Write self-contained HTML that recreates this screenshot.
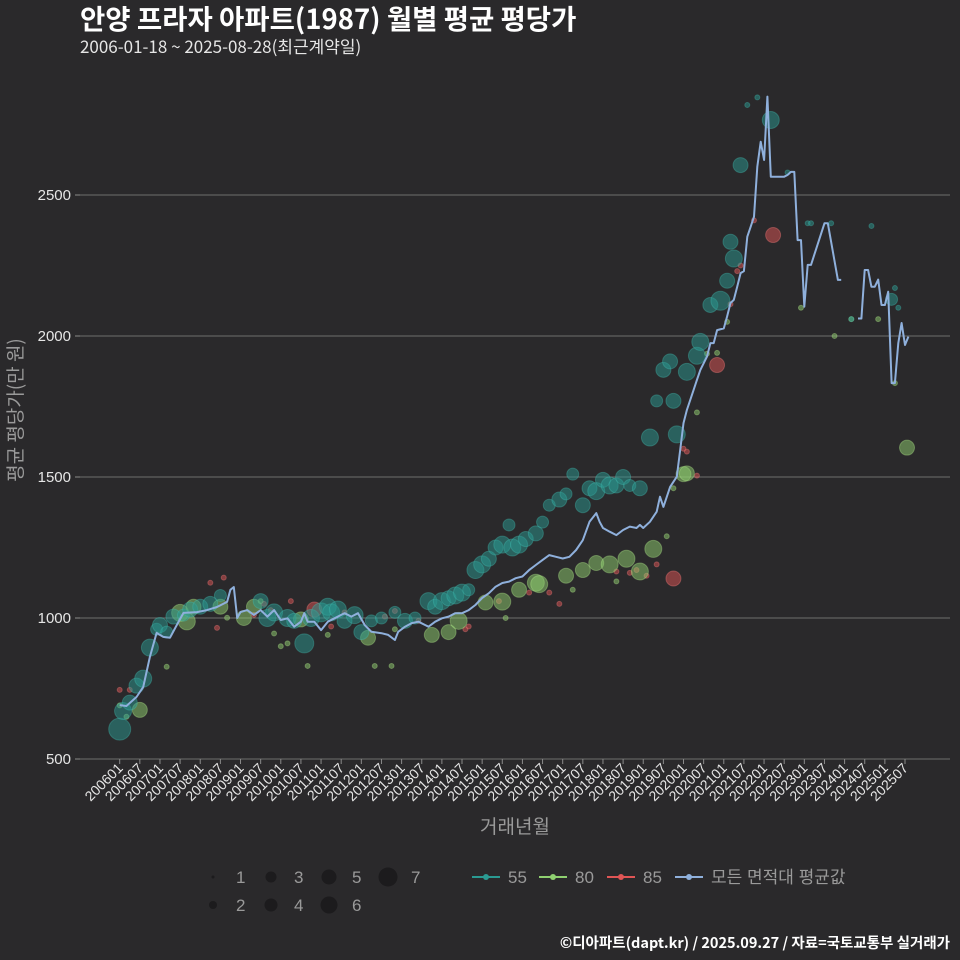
<!DOCTYPE html>
<html><head><meta charset="utf-8"><style>
html,body{margin:0;padding:0;background:#2a292b;}
svg{display:block;font-family:"Liberation Sans","Noto Sans CJK KR",sans-serif;}
</style></head><body>
<svg id="chart" width="960" height="960" viewBox="0 0 960 960" xmlns="http://www.w3.org/2000/svg">
<rect width="960" height="960" fill="#2a292b"/>
<text x="80" y="29" fill="#ffffff" font-size="27.5" font-weight="bold" font-family="'Noto Sans CJK KR',sans-serif">안양 프라자 아파트(1987) 월별 평균 평당가</text>
<text x="80" y="53" fill="#e6e6e6" font-size="17" font-family="'Noto Sans CJK KR',sans-serif">2006-01-18 ~ 2025-08-28(최근계약일)</text>
<g id="grid"></g>
<g id="bubbles"></g>
<g id="avgline"></g>
<g id="xaxis"></g>
<g id="yaxis"></g>
<text x="515" y="833" fill="#9a9a9a" font-size="19" text-anchor="middle" font-family="'Noto Sans CJK KR',sans-serif">거래년월</text>
<text transform="translate(22,410) rotate(-90)" fill="#9a9a9a" font-size="19" text-anchor="middle" font-family="'Noto Sans CJK KR',sans-serif">평균 평당가(만 원)</text>
<g id="legend"></g>
<text x="950" y="948" fill="#ffffff" font-size="14.5" font-weight="bold" text-anchor="end" font-family="'Noto Sans CJK KR',sans-serif">©디아파트(dapt.kr) / 2025.09.27 / 자료=국토교통부 실거래가</text>
</svg>
<script>
// ---- data ----
const yTicks = [500, 1000, 1500, 2000, 2500];
const xTickLabels = ["200601","200607","200701","200707","200801","200807","200901","200907","201001","201007","201101","201107","201201","201207","201301","201307","201401","201407","201501","201507","201601","201607","201701","201707","201801","201807","201901","201907","202001","202007","202101","202107","202201","202207","202301","202307","202401","202407","202501","202507"];
// average line: month offsets from 2006-01 and values (null = gap)
const avgMonths = [0,2,5,7,9,11,13,15,17,19,23,26,29,32,33,34,35,36,38,40,42,44,46,48,50,52,54,55,56,58,60,62,64,66,67,69,71,73,75,78,80,82,83,85,87,89,91,92,94,96,98,100,102,104,106,108,110,112,114,116,118,120,122,124,126,128,130,132,134,136,138,140,142,143,144,146,148,150,152,154,155,156,158,160,161,162,164,166,167,168,169,171,172,173,175,176,177,178,180,181,182,183,184,185,186,187,188,189,190,191,192,193,194,198,199,200,201,202,203,204,205,206,210,211,214,215,216,220,221,222,223,224,225,226,227,228,229,230,231,232,233,234,235];
const avgValues = [691,688,720,755,862,947,933,930,975,1018,1021,1028,1039,1057,1100,1110,1000,1021,1028,1011,1028,1005,1028,993,999,969,987,1017,987,987,957,987,999,1011,1017,1005,1017,975,951,946,940,922,951,969,982,987,975,969,987,999,1005,1017,1017,1028,1046,1071,1088,1111,1124,1129,1141,1147,1170,1188,1206,1223,1217,1211,1217,1241,1276,1341,1372,1341,1319,1306,1294,1312,1324,1319,1330,1319,1341,1377,1430,1394,1465,1501,1596,1691,1738,1809,1844,1879,1927,1975,1975,2021,2027,2069,2117,2128,2175,2223,2230,2352,2387,2423,2600,2689,2624,2849,2565,2565,2571,2582,2582,2340,2340,2104,2252,2252,2400,2400,2199,2199,null,2062,2062,2234,2234,2175,2175,2200,2110,2110,2157,1833,1833,1975,2046,1968,1998,1962];
// series 55
const s55Months = [0,1,3,5,7,9,11,12,14,16,19,21,24,27,30,42,44,46,50,52,55,57,60,62,63,65,67,70,72,75,78,82,85,88,92,94,96,98,100,102,104,106,108,110,112,114,116,117,119,121,124,126,128,131,133,135,138,140,142,144,146,148,150,152,155,158,160,162,164,165,166,169,172,173,176,179,181,182,183,185,187,190,194,199,205,206,212,218,224,230,231,232];
const s55Values = [606,670,700,760,785,895,960,975,950,1005,1010,1030,1040,1050,1080,1060,1000,1020,1000,990,910,1000,1020,1040,1020,1030,990,1010,950,990,1000,1020,990,1000,1060,1040,1060,1070,1080,1090,1100,1170,1190,1210,1250,1260,1330,1250,1260,1280,1300,1340,1400,1420,1440,1510,1400,1460,1450,1490,1470,1470,1500,1470,1460,1640,1770,1880,1910,1770,1651,1873,1930,1979,2110,2125,2196,2334,2275,2606,2819,2846,2766,2580,2400,2400,2400,2060,2390,2130,2170,2100];
const s55Counts = [7,5,4,4,5,5,3,4,3,4,3,4,4,4,3,4,5,5,5,4,6,5,6,5,5,5,4,5,4,3,3,3,4,3,5,4,5,4,5,5,3,5,5,4,4,5,3,5,5,4,4,3,3,4,3,3,4,4,5,4,5,4,4,3,4,5,3,4,4,4,5,5,5,5,4,6,4,4,5,4,1,1,5,1,1,1,1,1,1,3,1,1];
// series 80
const s80Months = [0,2,6,14,18,20,22,30,32,37,40,42,46,48,50,54,56,62,74,76,81,82,93,98,101,109,114,115,119,124,125,133,135,138,142,146,148,151,155,159,163,165,168,169,172,175,178,181,203,213,218,226,231,234.6];
const s80Values = [690,650,674,827,1018,988,1040,1040,1001,1000,1040,1060,945,900,910,995,830,940,930,830,830,960,940,950,990,1055,1058,1000,1100,1125,1120,1150,1100,1170,1195,1190,1130,1210,1165,1245,1290,1460,1510,1513,1729,1937,1940,2050,2100,2000,2060,2060,1833,1604];
const s80Counts = [1,1,4,1,5,5,4,4,1,4,4,1,1,1,1,4,1,1,4,1,1,1,4,4,5,4,5,1,4,5,5,4,1,4,4,5,1,5,5,5,1,1,4,4,1,1,1,1,1,1,1,1,1,4];
// series 85
const s85Months = [0,3,27,29,31,40,43,45,51,58,63,67,79,82,89,103,104,113,122,128,131,148,152,154,157,160,165,168,169,172,178,182,184,185,189,194.7];
const s85Values = [745,745,1125,965,1143,1011,1050,1028,1060,1030,970,1020,1005,1025,990,960,970,1060,1090,1090,1050,1165,1160,1170,1150,1190,1140,1600,1590,1505,1897,2113,2230,2250,2410,2358];
const s85Counts = [1,1,1,1,1,1,1,1,1,4,1,1,1,1,1,1,1,1,1,1,1,1,1,1,1,1,4,1,1,1,4,1,1,1,1,4];
const sizeLegend = [1,2,3,4,5,6,7];

// ---- scales ----
const NS = "http://www.w3.org/2000/svg";
function X(m){ return 119.7 + m*3.356; }
function Y(v){ return 759 - (v-500)*0.282; }
function R(n){ return [0,2.5,4.5,6,7.5,8.5,9.5,11][n]; }
function mk(tag, attrs, parent){ const e=document.createElementNS(NS,tag); for(const k in attrs) e.setAttribute(k,attrs[k]); parent.appendChild(e); return e; }

// grid + y axis
const grid=document.getElementById('grid'), yax=document.getElementById('yaxis');
yTicks.forEach(t=>{
  const gl=mk('line',{x1:80,x2:950,y1:Y(t),y2:Y(t),stroke:'#6e6e6e','stroke-width':1},grid);
  
  
  mk('line',{x1:75,x2:80,y1:Y(t),y2:Y(t),stroke:'#8a8a8a'},yax);
  const tx=mk('text',{x:71,y:Y(t)+5,fill:'#e6e6e6','font-size':15,'text-anchor':'end'},yax);
  tx.textContent=t;
  
  
});
// x axis
const xax=document.getElementById('xaxis');
xTickLabels.forEach((lab,i)=>{
  const m=(parseInt(lab.slice(0,4))-2006)*12+parseInt(lab.slice(4))-1;
  const x=X(m);
  mk('line',{x1:x,x2:x,y1:759,y2:764,stroke:'#8a8a8a'},xax);
  const tx=mk('text',{x:0,y:0,fill:'#e6e6e6','font-size':14,'text-anchor':'end',transform:`translate(${x+4},${769}) rotate(-45)`},xax);
  tx.textContent=lab;
  
  
});

// bubbles
const bub=document.getElementById('bubbles');
function drawSeries(ms,vs,cs,fill,stroke,name){
  ms.forEach((m,i)=>{
    const c=mk('circle',{cx:X(m),cy:Y(vs[i]),r:R(cs[i]),fill:fill,'fill-opacity':0.5,stroke:stroke,'stroke-opacity':0.35,'stroke-width':1},bub);
    
    
  });
}
drawSeries(s85Months,s85Values,s85Counts,'#e05555','#ff8080','bubble-85');
drawSeries(s80Months,s80Values,s80Counts,'#8fd070','#b8f090','bubble-80');
drawSeries(s55Months,s55Values,s55Counts,'#2a9a92','#45c0b5','bubble-55');

// average line
const av=document.getElementById('avgline');
let d='', pen=false;
avgMonths.forEach((m,i)=>{
  const v=avgValues[i];
  if(v===null){pen=false;return;}
  d+=(pen?'L':'M')+X(m).toFixed(1)+','+Y(v).toFixed(1)+' ';
  pen=true;
});
const p=mk('path',{d:d,fill:'none',stroke:'#8fb0dc','stroke-width':2,'stroke-linejoin':'round'},av);



// legend
const lg=document.getElementById('legend');
const lpos=[[213,877],[213,905],[271,877],[271,905],[329,877],[329,905],[388,877]];
sizeLegend.forEach((n,i)=>{
  const [x,y]=lpos[i];
  const r=[1.5,4,5.5,6.5,7.5,8.5,9.5][i];
  const c=mk('circle',{cx:x,cy:y,r:r,fill:'#1c1b1d'},lg);
  
  
  const t=mk('text',{x:x+23,y:y+6,fill:'#9a9a9a','font-size':17},lg);
  t.textContent=n;
  
  
});
const series=[['55','#2a9a92',472],['80','#8fd070',539],['85','#e05555',607],['모든 면적대 평균값','#8fb0dc',675]];
series.forEach(([lab,col,x])=>{
  const g=mk('g',{},lg);
  
  
  mk('line',{x1:x,x2:x+28,y1:877,y2:877,stroke:col,'stroke-width':2},g);
  mk('circle',{cx:x+14,cy:877,r:3,fill:col},g);
  const t=mk('text',{x:x+36,y:883,fill:'#9a9a9a','font-size':17,'font-family':"'Liberation Sans','Noto Sans CJK KR',sans-serif"},g);
  t.textContent=lab;
});
</script>
</body></html>
